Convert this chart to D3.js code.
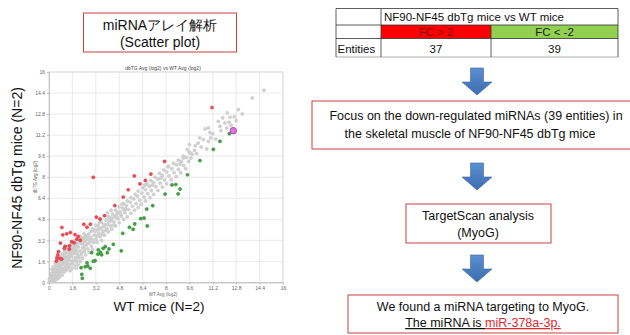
<!DOCTYPE html>
<html><head><meta charset="utf-8">
<script src="https://cdn.jsdelivr.net/npm/d3@7"></script>
<style>
html,body{margin:0;padding:0;background:#fff;}
svg{display:block;}
text{font-family:"Liberation Sans",Arial,sans-serif;}
</style></head>
<body>
<svg id="c" width="630" height="335"></svg>
<script>
// ---- data ----
const tickValues = [0,1.6,3.2,4.8,6.4,8,9.6,11.2,12.8,14.4,16];
const tickLabels = ["0","1.6","3.2","4.8","6.4","8","9.6","11.2","12.8","14.4","16"];

const grayPoints = [
[0.05,0.08],[0.12,0.25],[0.2,0.05],[0.22,0.42],[0.3,0.18],[0.1,0.6],[0.35,0.55],[0.42,0.3],[0.28,0.8],[0.5,0.75],[0.55,0.45],[0.18,1.0],[0.4,1.0],[0.62,0.95],[0.68,0.6],[0.3,1.2],[0.52,1.25],[0.75,1.15],[0.8,0.8],[0.9,0.55],[0.45,1.45],[0.65,1.5],[0.85,1.35],[0.95,1.05],[1.05,0.8],[0.6,1.7],[0.8,1.72],[1.0,1.55],[1.1,1.25],[1.2,0.95],[0.75,1.95],[0.95,2.0],[1.15,1.8],[1.25,1.45],[1.35,1.15],[1.45,0.9],[0.9,2.2],[1.1,2.25],[1.3,2.0],[1.4,1.7],[1.5,1.4],[1.6,1.1],[1.05,2.45],[1.25,2.5],[1.45,2.25],[1.55,1.95],[1.65,1.65],[1.75,1.35],[1.85,1.1],[1.2,2.7],[1.4,2.72],[1.6,2.5],[1.7,2.2],[1.8,1.9],[1.9,1.6],[2.0,1.35],[1.55,2.95],[1.75,2.75],[1.85,2.45],[1.95,2.15],[2.05,1.85],[2.15,1.6],[1.7,3.15],[1.9,3.0],[2.0,2.7],[2.1,2.4],[2.2,2.1],[2.3,1.85],[1.95,3.3],[2.1,3.2],[2.2,2.95],[2.3,2.65],[2.4,2.35],[2.5,2.1],[2.15,3.5],[2.35,3.4],[2.45,3.15],[2.55,2.85],[2.65,2.55],[2.75,2.3],[2.4,3.7],[2.6,3.55],[2.7,3.3],[2.8,3.05],[2.9,2.75],[3.0,2.5],[0.15,0.15],[0.25,0.3],[0.38,0.12],[0.08,0.35],[0.45,0.2],[0.6,0.3],[0.7,0.4],[0.33,0.4],[0.58,1.1],[0.72,0.78],[0.92,0.82],[1.02,1.38],[1.18,1.62],[1.32,1.88],[1.48,2.1],[1.62,2.33],[1.78,2.58],[1.92,2.82],[2.08,3.05],[2.25,3.25],[2.5,3.5],
[0.02,0.22],[0.18,0.68],[0.48,0.58],[0.38,0.85],[0.7,1.32],[0.85,1.6],[0.55,1.58],[1.12,2.05],[1.3,2.3],[1.0,1.85],[1.5,2.6],[1.65,2.85],[1.38,1.32],[1.58,1.55],[1.8,1.7],[2.0,2.0],[2.22,2.3],[2.4,2.55],[2.55,3.25],[2.72,3.7],[2.3,3.0],[1.82,2.3],[1.25,1.1],[1.05,1.05],[0.82,1.05],[0.62,0.72],[2.85,3.45],[2.95,3.25],[2.65,2.95],[2.45,2.8],
[2.9,3.9],[3.1,3.6],[3.2,3.3],[3.3,3.05],[3.0,4.1],[3.25,4.0],[3.4,3.75],[3.5,3.5],[3.6,3.2],[3.35,4.3],[3.55,4.15],[3.7,3.9],[3.8,3.6],[3.6,4.55],[3.8,4.4],[3.95,4.1],[4.05,3.85],[3.9,4.75],[4.1,4.6],[4.2,4.3],[4.3,4.05],[4.05,5.0],[4.3,4.9],[4.45,4.6],[4.55,4.3],[4.35,5.2],[4.6,5.15],[4.7,4.85],[4.8,4.55],[4.55,5.5],[4.85,5.4],[4.95,5.05],[5.1,4.8],[4.8,5.75],[5.05,5.65],[5.2,5.3],[5.35,5.0],[5.1,6.0],[5.3,5.85],[5.45,5.55],[5.6,5.25],[5.35,6.2],[5.55,6.1],[5.7,5.8],[5.85,5.5],[5.6,6.45],[5.8,6.35],[5.95,6.0],[6.1,5.7],[4.0,4.4],[4.7,5.3],[5.0,5.95],[3.15,3.9],[3.45,4.05],[3.75,4.25],[4.25,4.7],[4.5,5.0],[5.25,5.6],
[3.05,3.05],[3.3,3.55],[3.45,4.55],[3.65,3.7],[3.9,3.95],[4.15,4.9],[4.4,4.35],[4.65,4.95],[4.9,5.2],[5.15,5.45],[3.2,4.35],[3.5,4.8],[4.0,5.3],[4.25,5.5],
[5.9,6.7],[6.05,6.55],[6.2,6.25],[6.3,5.95],[6.1,6.95],[6.35,6.8],[6.5,6.5],[6.6,6.2],[6.4,7.2],[6.6,7.05],[6.75,6.75],[6.9,6.45],[6.7,7.5],[6.85,7.3],[7.0,7.0],[7.15,6.7],[6.95,7.75],[7.15,7.6],[7.3,7.3],[7.45,7.0],[7.25,8.0],[7.45,7.85],[7.6,7.55],[7.75,7.25],[7.55,8.3],[7.75,8.15],[7.9,7.8],[8.05,7.5],[7.85,8.55],[8.05,8.4],[8.2,8.1],[8.35,7.8],[8.15,8.8],[8.4,8.65],[8.55,8.35],[8.7,8.05],[8.5,9.05],[8.7,8.95],[8.85,8.6],[9.0,8.35],[8.85,9.3],[9.05,9.2],[9.2,8.9],[9.35,8.65],[9.2,9.6],[9.4,9.5],[9.55,9.2],[9.7,9.45],[9.6,9.9],[9.8,9.75],[9.45,10.1],[9.95,10.05],[10.1,9.8],[6.55,7.4],[7.05,7.4],[7.65,7.95],[8.16,8.82],[8.95,9.0],
[10.2,10.6],[10.4,10.3],[10.55,10.86],[10.67,11.67],[10.78,10.15],[10.9,10.73],[10.9,11.75],[11.06,10.99],[11.2,11.3],[11.4,10.9],[11.58,12.25],[11.69,11.87],[11.76,11.54],[11.88,12.51],[12.03,12.13],[12.15,11.75],[12.19,12.89],[12.31,12.18],[12.38,12.56],[12.45,11.95],[12.67,12.59],[12.95,13.14],[13.22,12.81],[13.9,14.03],[14.7,14.61],[9.6,10.48],[9.64,9.84],[9.18,9.46],[10.0,10.4],[10.3,11.0],[11.0,11.4],[12.8,12.3]
];

const redPoints = [
[11.15,13.3],[3.03,8.0],[7.9,9.2],[6.97,8.24],[5.83,8.1],[6.59,7.76],[6.22,7.5],[5.42,7.05],[5.08,6.49],[4.5,5.85],[3.8,5.08],[3.24,4.97],[3.49,4.82],[2.83,4.43],[2.38,4.42],[0.88,4.18],[1.46,3.8],[1.78,3.64],[1.21,3.7],[0.94,3.62],[2.14,3.22],[1.72,3.02],[0.78,3.0],[1.4,2.79],[1.1,2.75],[1.05,2.6],[0.65,2.35],[1.39,2.53],[0.54,1.87],[0.74,1.84],[0.5,1.63],[0.87,1.77],[1.55,3.1],[2.0,3.5],[2.6,4.2],[1.9,3.3],[0.6,2.1]
];

const greenPoints = [
[12.33,11.31],[11.69,10.73],[11.24,10.12],[10.32,9.27],[9.47,8.19],[8.41,7.42],[8.67,7.45],[8.96,7.1],[8.83,6.74],[7.94,6.72],[7.09,5.84],[6.5,4.9],[6.72,4.3],[5.86,4.45],[5.75,4.04],[5.04,3.74],[4.94,2.41],[4.1,2.55],[3.85,2.73],[3.99,2.27],[3.52,2.3],[3.35,2.15],[3.15,1.66],[3.03,1.61],[2.65,1.26],[2.82,1.08],[2.48,1.2],[2.2,1.13],[2.24,0.62],[2.28,0.32],[3.37,2.48],[2.92,2.27],[3.6,2.1],[6.27,4.86],[6.68,5.58],[4.4,2.9],[3.7,2.6],[2.6,1.5],[5.5,4.2]
];

const highlight = [[12.6,11.54]];

const tableHeader = "NF90-NF45 dbTg mice vs WT mice";
const tableCols = ["FC > 2","FC < -2"];
const tableCounts = ["37","39"];

// ---- drawing ----
const svg = d3.select("#c");
const boxRed = "#c9403e";

const x = d3.scaleLinear().domain([0,16]).range([49,283]);
const y = d3.scaleLinear().domain([0,16]).range([282.5,72]);

svg.append("rect").attr("x",x(0)).attr("y",y(16)).attr("width",x(16)-x(0)).attr("height",y(0)-y(16))
  .attr("fill","#fff").attr("stroke","#c8c8c8").attr("stroke-width",0.8);

svg.append("g").selectAll("line.v").data(tickValues.slice(1,-1)).join("line")
  .attr("x1",d=>x(d)).attr("x2",d=>x(d)).attr("y1",y(0)).attr("y2",y(16))
  .attr("stroke","#e4e4e4").attr("stroke-width",0.8);
svg.append("g").selectAll("line.h").data(tickValues.slice(1,-1)).join("line")
  .attr("y1",d=>y(d)).attr("y2",d=>y(d)).attr("x1",x(0)).attr("x2",x(16))
  .attr("stroke","#e4e4e4").attr("stroke-width",0.8);

const fmt = d => tickLabels[tickValues.indexOf(d)];
const xAxis = svg.append("g").attr("transform",`translate(0,${y(0)})`)
  .call(d3.axisBottom(x).tickValues(tickValues).tickFormat(fmt).tickSize(2).tickPadding(2));
const yAxis = svg.append("g").attr("transform",`translate(${x(0)},0)`)
  .call(d3.axisLeft(y).tickValues(tickValues).tickFormat(fmt).tickSize(2).tickPadding(2));
[xAxis,yAxis].forEach(a=>{
  a.select(".domain").attr("stroke","#bbb").attr("stroke-width",0.8);
  a.selectAll(".tick line").attr("stroke","#bbb");
  a.selectAll("text").attr("font-size",5).attr("fill","#666").attr("font-family","Liberation Sans, Arial");
});

svg.append("g").selectAll("circle").data(grayPoints).join("circle")
  .attr("cx",d=>x(d[0])).attr("cy",d=>y(d[1])).attr("r",1.6)
  .attr("fill","#d2d2d2").attr("stroke","#c2c2c2").attr("stroke-width",0.5);
svg.append("g").selectAll("circle").data(redPoints).join("circle")
  .attr("cx",d=>x(d[0])).attr("cy",d=>y(d[1])).attr("r",1.6)
  .attr("fill","#ee4a55").attr("stroke","#d83040").attr("stroke-width",0.5);
svg.append("g").selectAll("circle").data(greenPoints).join("circle")
  .attr("cx",d=>x(d[0])).attr("cy",d=>y(d[1])).attr("r",1.6)
  .attr("fill","#44a044").attr("stroke","#2f8a2f").attr("stroke-width",0.5);
svg.append("g").selectAll("circle").data(highlight).join("circle")
  .attr("cx",d=>x(d[0])).attr("cy",d=>y(d[1])).attr("r",3.2)
  .attr("fill","#d77ad7").attr("stroke","#b23fc0").attr("stroke-width",1);

svg.append("text").attr("x",163).attr("y",69.5).attr("text-anchor","middle")
  .attr("font-size",5).attr("fill","#444").text("dbTG Avg (log2) vs WT Avg (log2)");
svg.append("text").attr("x",163).attr("y",296).attr("text-anchor","middle")
  .attr("font-size",4.5).attr("fill","#666").text("WT Avg (log2)");
svg.append("text").attr("transform","translate(36.5,177) rotate(-90)").attr("text-anchor","middle")
  .attr("font-size",4.5).attr("fill","#666").text("dbTG Avg (log2)");

svg.append("text").attr("transform","translate(22,178) rotate(-90)").attr("text-anchor","middle")
  .attr("font-size",14).attr("fill","#111").text("NF90-NF45 dbTg mice (N=2)");
svg.append("text").attr("x",159).attr("y",311).attr("text-anchor","middle")
  .attr("font-size",13.5).attr("fill","#111").text("WT mice (N=2)");

svg.append("rect").attr("x",83.5).attr("y",13).attr("width",153).attr("height",39)
  .attr("fill","#fff").attr("stroke",boxRed).attr("stroke-width",1);
svg.append("text").attr("x",160).attr("y",30).attr("text-anchor","middle")
  .attr("font-size",14).attr("fill","#111")
  .attr("font-family","'Noto Sans CJK JP','Liberation Sans',sans-serif").text("miRNAアレイ解析");
svg.append("text").attr("x",160).attr("y",46.5).attr("text-anchor","middle")
  .attr("font-size",14).attr("fill","#111").text("(Scatter plot)");

const tb = svg.append("g");
const tx = [336,381,491,618], ty = [8.5,25,38.5,57];
tb.append("rect").attr("x",tx[1]).attr("y",ty[1]).attr("width",tx[2]-tx[1]).attr("height",ty[2]-ty[1]).attr("fill","#ff0000");
tb.append("rect").attr("x",tx[2]).attr("y",ty[1]).attr("width",tx[3]-tx[2]).attr("height",ty[2]-ty[1]).attr("fill","#92d050");
const tl = (x1,y1,x2,y2,c)=>tb.append("line").attr("x1",x1).attr("y1",y1).attr("x2",x2).attr("y2",y2).attr("stroke",c||"#333").attr("stroke-width",0.8);
tl(tx[0],ty[0],tx[3],ty[0]); tl(tx[0],ty[1],tx[3],ty[1]); tl(tx[0],ty[2],tx[3],ty[2]); tl(tx[0],ty[3],tx[3],ty[3],"#999");
tl(tx[0],ty[0],tx[0],ty[3]); tl(tx[1],ty[0],tx[1],ty[3]); tl(tx[3],ty[0],tx[3],ty[3]);
tl(tx[2],ty[1],tx[2],ty[3]);
tb.append("text").attr("x",tx[1]+3).attr("y",20.5).attr("font-size",11.5).attr("fill","#111").text(tableHeader);
tableCols.forEach((c,i)=>{
  tb.append("text").attr("x",(tx[i+1]+tx[i+2])/2).attr("y",35.5).attr("text-anchor","middle")
    .attr("font-size",11.5).attr("fill",i===0?"#7a1010":"#222").text(c);
  tb.append("text").attr("x",(tx[i+1]+tx[i+2])/2).attr("y",52.5).attr("text-anchor","middle")
    .attr("font-size",11.5).attr("fill","#111").text(tableCounts[i]);
});
tb.append("text").attr("x",tx[0]+1.5).attr("y",52.5).attr("font-size",11.5).attr("fill","#111").text("Entities");

const defs = svg.append("defs");
const gr = defs.append("linearGradient").attr("id","ag").attr("x1",0).attr("x2",0).attr("y1",0).attr("y2",1);
gr.append("stop").attr("offset","0%").attr("stop-color","#5a8fd0");
gr.append("stop").attr("offset","100%").attr("stop-color","#3c6db0");
[68,163,255].forEach(t=>{
  const cx=477;
  const p = `M${cx-6.5},${t} L${cx+6.5},${t} L${cx+6.5},${t+14} L${cx+15},${t+14} L${cx},${t+27} L${cx-15},${t+14} L${cx-6.5},${t+14} Z`;
  svg.append("path").attr("d",p).attr("fill","url(#ag)").attr("stroke","#3a66a3").attr("stroke-width",0.6);
});

function box(x0,y0,w,h){
  svg.append("rect").attr("x",x0).attr("y",y0).attr("width",w).attr("height",h)
    .attr("fill","#fff").attr("stroke",boxRed).attr("stroke-width",1);
}
box(312,101,326,48);
svg.append("text").attr("x",476).attr("y",120).attr("text-anchor","middle").attr("font-size",12.5).attr("fill","#111")
  .text("Focus on the down-regulated miRNAs (39 entities) in");
svg.append("text").attr("x",470).attr("y",138).attr("text-anchor","middle").attr("font-size",12.5).attr("fill","#111")
  .text("the skeletal muscle of NF90-NF45 dbTg mice");

box(406,204,145,39);
svg.append("text").attr("x",478).attr("y",219.5).attr("text-anchor","middle").attr("font-size",12.5).attr("fill","#111").text("TargetScan analysis");
svg.append("text").attr("x",478).attr("y",236.5).attr("text-anchor","middle").attr("font-size",12.5).attr("fill","#111").text("(MyoG)");

box(348,295,270,38);
svg.append("text").attr("x",483).attr("y",311).attr("text-anchor","middle").attr("font-size",12.5).attr("fill","#111")
  .text("We found a miRNA targeting to MyoG.");
const t4 = svg.append("text").attr("x",483).attr("y",327).attr("text-anchor","middle").attr("font-size",12.5);
t4.append("tspan").attr("fill","#111").attr("text-decoration","underline").text("The miRNA is ");
t4.append("tspan").attr("fill","#e8262c").attr("text-decoration","underline").text("miR-378a-3p.");
</script>
</body></html>
